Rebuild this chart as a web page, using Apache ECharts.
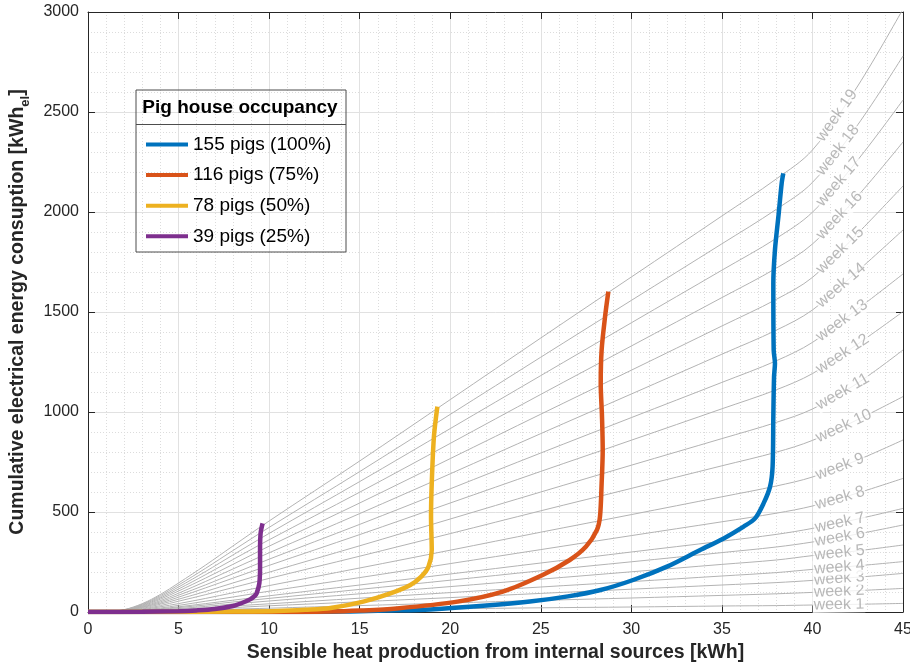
<!DOCTYPE html>
<html><head><meta charset="utf-8">
<script src="https://cdn.jsdelivr.net/npm/echarts@6/dist/echarts.min.js"></script>
<style>html,body{margin:0;padding:0;background:#fff}#c{width:910px;height:665px}</style>
</head><body><div id="c"></div>
<script>
// ---- data ----
const xTicks = [0,5,10,15,20,25,30,35,40,45];
const yTicks = [0,500,1000,1500,2000,2500,3000];
const weekX = [1,2,3,4,5,6.5,8,10,15,20,25,30,35,38,40,42.5,45];
const week1  = [0,0,1,1,2,4,5,7,11,16,21,25,30,32,35,38.5,43];
const week2  = [0,1,2,4,6,10,14,19,32,45,58,70,83,91,98,107,118];
const week3  = [0,1,3,6,10,16,22,31,51,72,93,114,135,147,158,174,193];
const week4  = [0,1,4,8,13,21,30,41,69,97,125,152,180,197,213,231,252];
const week5  = [0,1,5,11,17,28,40,55,91,127,164,201,238,260,282,306,335];
const week6  = [0,2,6,13,22,35,50,68,113,159,206,251,297,325,350,390,435];
const week7  = [0,2,8,16,26,42,59,81,135,190,245,300,354,388,418,465,518];
const week8  = [0,3,10,20,33,54,75,104,172,242,312,382,451,494,530,595,668];
const week9  = [0,3,12,26,42,68,96,132,220,309,399,487,576,630,675,760,860];
const week10 = [0,4,15,32,54,87,122,168,279,392,506,618,731,799,858,962,1077];
const week11 = [0,5,18,39,64,103,145,199,331,465,600,734,867,948,1015,1145,1310];
const week12 = [0,6,22,45,74,121,169,233,387,545,703,859,1016,1111,1192,1340,1502];
const week13 = [0,7,24,51,84,136,191,264,438,616,795,972,1148,1256,1348,1515,1690];
const week14 = [0,8,27,57,94,153,215,296,492,691,892,1090,1289,1409,1510,1705,1910];
const week15 = [0,9,30,64,105,170,238,329,545,767,989,1209,1430,1563,1673,1893,2130];
const week16 = [0,10,33,70,115,187,262,361,599,843,1088,1330,1572,1719,1840,2080,2350];
const week17 = [0,10,36,76,125,203,285,393,652,917,1182,1446,1709,1868,1999,2260,2560];
const week18 = [0,11,39,82,135,219,307,423,702,988,1274,1558,1841,2013,2148,2436,2780];
const week19 = [0,12,42,88,145,235,330,455,755,1062,1370,1675,1980,2165,2310,2630,3015];
const weeks = [week1,week2,week3,week4,week5,week6,week7,week8,week9,week10,
               week11,week12,week13,week14,week15,week16,week17,week18,week19];
const weekNames = weeks.map((_, i) => 'week ' + (i + 1));

const pigs155 = [[0,0],[12,0],[14.5,3],[16.5,7],[18.9,13],[22,32],[24.4,52],[26.5,78],[28.3,110],[30.1,160],[32,228],[33.8,310],[35.1,368],[36.2,427],[36.83,468],[37.3,543],[37.66,627],[37.8,727],[37.84,977],[37.88,1177],[37.93,1243],[37.86,1310],[37.84,1643],[37.93,1810],[38.12,1977],[38.3,2143],[38.39,2193]];
const pigs116 = [[0,0],[10,0],[13.4,2],[15,7],[17.05,18],[20.4,52],[22.9,102],[25.1,185],[26.6,260],[27.5,327],[28.1,410],[28.27,477],[28.36,643],[28.42,810],[28.38,977],[28.31,1143],[28.36,1310],[28.55,1477],[28.73,1602]];
const pigs78  = [[0,0],[5,0],[8,2],[10.5,5],[12,11],[13.4,20],[15.2,52],[16.7,93],[17.8,135],[18.4,177],[18.8,227],[18.98,310],[18.94,477],[18.98,643],[19.1,877],[19.29,1027]];
const pigs39  = [[0,0],[3,1],[5,4],[6,8],[7,15],[8,30],[8.5,45],[8.95,63],[9.2,80],[9.31,93],[9.46,143],[9.5,227],[9.5,310],[9.53,393],[9.64,443]];
const occNames = ['155 pigs (100%)','116 pigs (75%)','78 pigs (50%)','39 pigs (25%)'];
const occData = [pigs155, pigs116, pigs78, pigs39];
const occColors = ['#0072BD','#D95319','#EDB120','#7E2F8E'];

// ---- chart ----
const FONT = '"Liberation Sans", Arial, Helvetica, sans-serif';
const AX = '#262626';
const chart = echarts.init(document.getElementById('c'), null, {renderer: 'canvas'});

function baseAxis(extra) {
  return Object.assign({
    type: 'value',
    axisLine: {show: true, onZero: false, lineStyle: {color: AX, width: 1}},
    axisTick: {show: true, inside: true, length: 7, lineStyle: {color: AX}},
    axisLabel: {show: false},
    splitLine: {show: false},
    minorTick: {show: false, splitNumber: 5},
    minorSplitLine: {show: false}
  }, extra);
}

const series = [];
weeks.forEach((arr, i) => {
  series.push({
    type: 'line', name: weekNames[i], silent: true, z: 2,
    data: weekX.map((x, j) => [x, arr[j]]),
    symbol: 'none', showSymbol: false, smooth: 0.35,
    lineStyle: {color: '#b3b3b3', width: 1}
  });
});
series.push({
  type: 'scatter', name: 'weekLabels', silent: true, z: 3,
  symbolSize: 0, data: [],
  label: {show: true, position: 'inside', color: '#a6a6a6', fontFamily: FONT, fontSize: 16,
          backgroundColor: '#ffffff', padding: [0, 1]}
});
occData.forEach((d, i) => {
  series.push({
    type: 'line', name: occNames[i], z: 4, data: d,
    symbol: 'none', showSymbol: false, smooth: 0.3,
    lineStyle: {color: occColors[i], width: 4.5}, itemStyle: {color: occColors[i]}
  });
});

const option = {
  animation: false,
  backgroundColor: '#ffffff',
  grid: {left: 88, right: 7, top: 12, bottom: 53, containLabel: false, outerBoundsMode: 'none'},
  xAxis: [
    baseAxis({
      min: xTicks[0], max: xTicks[xTicks.length - 1], interval: 5, position: 'bottom',
      axisLabel: {show: true, color: AX, fontFamily: FONT, fontSize: 16, margin: 10},
      splitLine: {show: true, lineStyle: {color: '#e1e1e1', width: 1}},
      minorSplitLine: {show: true, lineStyle: {color: '#dcdcdc', width: 1, type: [1, 2]}},
      name: 'Sensible heat production from internal sources [kWh]',
      nameLocation: 'middle', nameGap: 29,
      nameTextStyle: {color: AX, fontFamily: FONT, fontSize: 19.5, fontWeight: 'bold'}
    }),
    baseAxis({min: 0, max: 45, interval: 5, position: 'top'})
  ],
  yAxis: [
    baseAxis({
      min: yTicks[0], max: yTicks[yTicks.length - 1], interval: 500, position: 'left',
      axisLabel: {show: true, color: AX, fontFamily: FONT, fontSize: 16, margin: 9,
                  formatter: v => String(v)},
      splitLine: {show: true, lineStyle: {color: '#e1e1e1', width: 1}},
      minorSplitLine: {show: true, lineStyle: {color: '#dcdcdc', width: 1, type: [1, 2]}},
      name: '{b|Cumulative electrical energy consuption [kWh}{s|el}{b|]}',
      nameLocation: 'middle', nameGap: 56,
      nameTextStyle: {
        color: AX, fontFamily: FONT, fontSize: 19.5, fontWeight: 'bold',
        rich: {
          b: {color: AX, fontFamily: FONT, fontSize: 19.5, fontWeight: 'bold', lineHeight: 28},
          s: {color: AX, fontFamily: FONT, fontSize: 13, fontWeight: 'bold', verticalAlign: 'bottom', lineHeight: 14}
        }
      }
    }),
    baseAxis({min: 0, max: 3000, interval: 500, position: 'right'})
  ],
  legend: {
    show: true, data: occNames, orient: 'vertical', left: 141, top: 130,
    itemWidth: 42, itemHeight: 4, itemGap: 11.6, icon: 'rect', selectedMode: false,
    textStyle: {color: '#000', fontFamily: FONT, fontSize: 19}
  },
  graphic: [
    {type: 'rect', z: 100, shape: {x: 136, y: 90, width: 210, height: 162},
     style: {fill: 'rgba(255,255,255,0)', stroke: '#4d4d4d', lineWidth: 1}},
    {type: 'line', z: 100, shape: {x1: 136, y1: 124.5, x2: 346, y2: 124.5},
     style: {stroke: '#4d4d4d', lineWidth: 1}},
    {type: 'rect', z: -1, shape: {x: 136, y: 90, width: 210, height: 162},
     style: {fill: '#ffffff'}},
    {type: 'text', z: 100, x: 240, y: 108,
     style: {text: 'Pig house occupancy', fill: '#000', font: 'bold 19px ' + FONT,
             align: 'center', verticalAlign: 'middle'}}
  ],
  series: series
};
chart.setOption(option);

// ---- week labels placed on their curves, rotated to follow them ----
function yAt(arr, x) {
  for (let j = 0; j < weekX.length - 1; j++) {
    if (x >= weekX[j] && x <= weekX[j + 1]) {
      const t = (x - weekX[j]) / (weekX[j + 1] - weekX[j]);
      return arr[j] + t * (arr[j + 1] - arr[j]);
    }
  }
  return arr[arr.length - 1];
}
const ctx = document.createElement('canvas').getContext('2d');
ctx.font = '16px ' + FONT;
const toPx = p => chart.convertToPixel({xAxisIndex: 0, yAxisIndex: 0}, p);
const fromPx = p => chart.convertFromPixel({xAxisIndex: 0, yAxisIndex: 0}, p);
const labelData = weeks.map((arr, i) => {
  const text = weekNames[i];
  const w = ctx.measureText(text).width + 2;
  const h = 16;
  let xc = 41.3, ang = 0;
  const leftPx = toPx([40, 0])[0];
  for (let it = 0; it < 5; it++) {
    const p1 = toPx([xc - 0.4, yAt(arr, xc - 0.4)]);
    const p2 = toPx([xc + 0.4, yAt(arr, xc + 0.4)]);
    ang = Math.atan2(p1[1] - p2[1], p2[0] - p1[0]);
    const cx = leftPx + (w * Math.cos(ang) + h * Math.sin(ang)) / 2;
    xc = fromPx([cx, 0])[0];
  }
  return {value: [xc, yAt(arr, xc)], label: {formatter: text, rotate: ang * 180 / Math.PI}};
});
series[weeks.length].data = labelData;
chart.setOption({series: series});
</script>
</body></html>
